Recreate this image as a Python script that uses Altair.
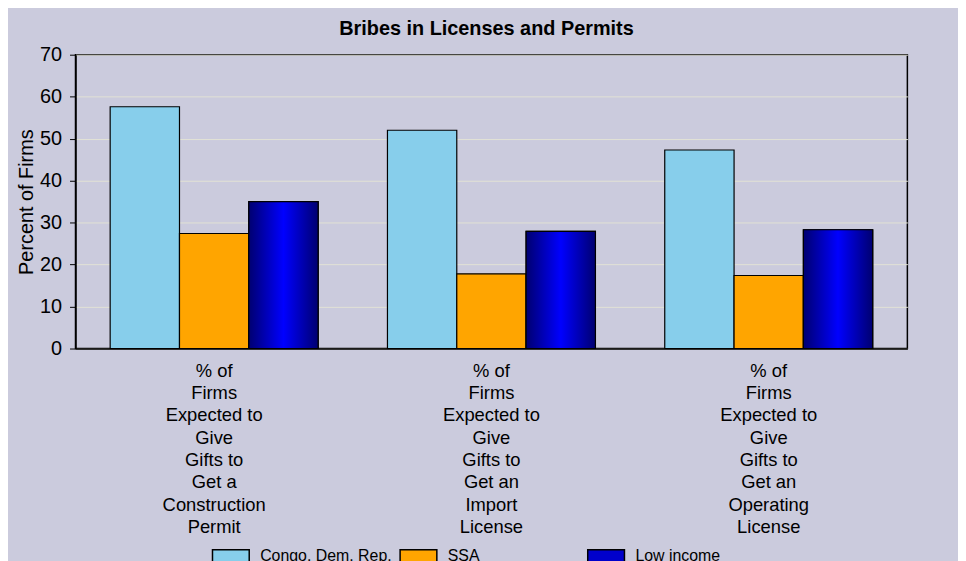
import altair as alt
import pandas as pd

categories = [
    "% of|Firms|Expected to|Give|Gifts to|Get a|Construction|Permit",
    "% of|Firms|Expected to|Give|Gifts to|Get an|Import|License",
    "% of|Firms|Expected to|Give|Gifts to|Get an|Operating|License",
]
series = ["Congo, Dem. Rep.", "SSA", "Low income"]
congo = [57.6, 52.0, 47.3]
ssa = [27.4, 17.8, 17.4]
low_income = [35.0, 27.9, 28.3]
colors = ["#87CEEB", "#FFA500", "#0000CC"]

rows = []
for vals, s in zip([congo, ssa, low_income], series):
    for c, v in zip(categories, vals):
        rows.append({"category": c, "series": s, "value": v})
df = pd.DataFrame(rows)

FONT = "Liberation Sans"
BG = "#CBCBDD"

base = alt.Chart(df).encode(
    x=alt.X(
        "category:N",
        sort=categories,
        scale=alt.Scale(paddingInner=0.25, paddingOuter=0.125),
        axis=alt.Axis(
            title=None, labelAngle=0, labelExpr="split(datum.label, '|')",
            ticks=False, labelLineHeight=22.5, labelPadding=13, labelFontSize=18.5,
            labelFont=FONT, labelColor="black", domainColor="black",
            domainWidth=1.5, grid=False, labelBaseline="top",
        ),
    ),
    xOffset=alt.XOffset(
        "series:N", sort=series,
        scale=alt.Scale(domain=series, paddingInner=0, paddingOuter=0),
    ),
    y=alt.Y(
        "value:Q",
        scale=alt.Scale(domain=[0, 70]),
        axis=alt.Axis(
            values=list(range(0, 80, 10)), title="Percent of Firms",
            titleFont=FONT, titleFontSize=20, titleFontWeight="normal",
            titleColor="black", titlePadding=3,
            labelFont=FONT, labelFontSize=20, labelColor="black",
            tickColor="black", tickSize=6, domainColor="black", domainWidth=1.5,
            gridColor="#E2E2D6", gridWidth=1, labelPadding=8,
        ),
    ),
)

bars = base.mark_bar(stroke="black", strokeWidth=1.2).encode(
    color=alt.Color(
        "series:N", sort=series,
        scale=alt.Scale(domain=series, range=colors),
        legend=alt.Legend(
            title=None, orient="none", legendX=137, legendY=485,
            direction="horizontal", columns=3, gridAlign="all",
            columnPadding=5, symbolType="M-1,-0.324H1V0.324H-1Z",
            symbolSize=1369, symbolStrokeColor="black", symbolStrokeWidth=1.5,
            labelFont=FONT, labelFontSize=16, labelColor="black", labelOffset=10,
        ),
    )
)

grad = base.transform_filter(alt.datum.series == "Low income").mark_bar(
    fill=alt.Gradient(
        gradient="linear", x1=0, x2=1, y1=0, y2=0,
        stops=[
            alt.GradientStop(color="#000070", offset=0),
            alt.GradientStop(color="#0000FF", offset=0.5),
            alt.GradientStop(color="#000070", offset=1),
        ],
    ),
    stroke="black", strokeWidth=1.2,
)

chart = (
    alt.layer(bars, grad)
    .properties(
        width=838, height=296,
        autosize=alt.AutoSizeParams(type="none"),
        padding={"left": 68, "top": 45, "right": 51, "bottom": 212},
        background=BG,
        title=alt.TitleParams(
            "Bribes in Licenses and Permits", font=FONT, fontSize=20,
            fontWeight="bold", color="black", offset=6, dx=-5,
        ),
    )
    .configure_view(stroke="black", strokeWidth=1.5, fill=BG)
)

chart.save("out.html", embed_options={"renderer": "svg", "actions": False})
